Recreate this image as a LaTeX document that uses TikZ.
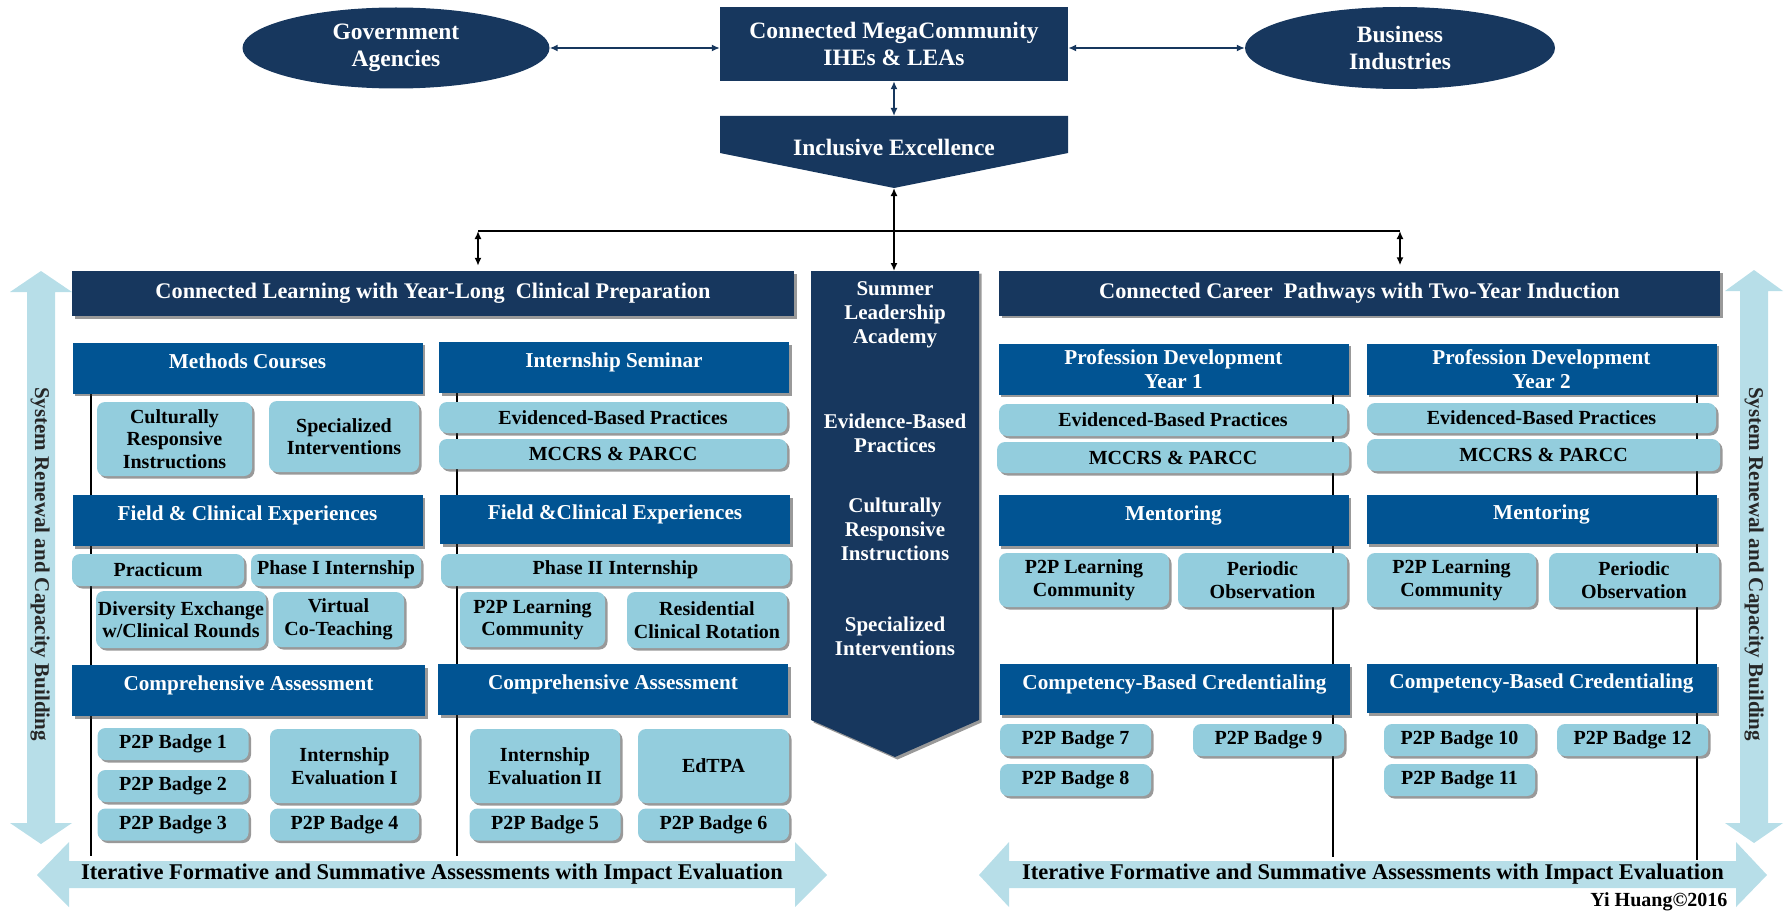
\documentclass[tikz,border=0pt]{standalone}
\usepackage{fontspec}
\setmainfont{Liberation Serif}
\usepackage{tikz}
\usetikzlibrary{shapes,arrows.meta,positioning,shadows}

\definecolor{navy}{RGB}{23,55,94}
\definecolor{hdrblue}{RGB}{1,84,147}
\definecolor{boxblue}{RGB}{147,205,221}
\definecolor{arrowblue}{RGB}{183,222,232}

\tikzset{
  sh/.style={drop shadow={shadow xshift=2.5pt,shadow yshift=-2.5pt,opacity=.5,fill=black!80}},
  sz/.style 2 args={minimum width=#1pt,minimum height=#2pt},
  topbox/.style={fill=navy,text=white,align=center,inner sep=0pt,font=\fontsize{23.5}{27}\selectfont\bfseries},
  banner/.style={fill=navy,text=white,sh,inner sep=0pt,minimum height=45pt,font=\fontsize{22.3}{26}\selectfont\bfseries},
  hdr/.style={fill=hdrblue,text=white,sh,sz={350}{51},align=center,inner sep=0pt,font=\fontsize{21.2}{24}\selectfont\bfseries},
  hdrtop/.style={hdr,text height=11pt,text depth=11pt},
  item/.style={fill=boxblue,rounded corners=8pt,sh,align=center,inner sep=0pt,font=\fontsize{20}{22.5}\selectfont\bfseries},
  badge/.style={item,sz={151}{32}},
  coltext/.style={text=white,align=center,font=\fontsize{21}{24}\selectfont\bfseries},
  bartext/.style={font=\fontsize{22.5}{26}\selectfont\bfseries},
  vtext/.style={rotate=-90,text=black!85,font=\fontsize{21}{24}\selectfont\bfseries},
  link/.style={<->,draw=navy,line width=1.5pt},
  branch/.style={<->,line width=1.6pt},
  guide/.style={line width=1.2pt}
}

\begin{document}
\begin{tikzpicture}[x=1pt,y=-1pt,>={Latex[length=8pt,width=7pt]}]
  \useasboundingbox (0,0) rectangle (1784,915);

  % community on top
  \node[topbox,ellipse,sz={307}{81}] (gov) at (396,48) {Government\\Agencies};
  \node[topbox,sz={348}{74}] (mega) at (894,44) {Connected MegaCommunity\\IHEs \& LEAs};
  \node[topbox,ellipse,sz={310}{82}] (bus) at (1400,48) {Business\\Industries};
  \fill[navy] (720,116) -- (1068,116) -- (1068,153) -- (894,188) -- (720,153) -- cycle;
  \node[topbox,fill=none] (incl) at (894,147) {Inclusive Excellence};
  \coordinate (inctop) at (894,116);
  \coordinate (inctip) at (894,188);
  \draw[link] (gov.east) -- (gov.east -| mega.west);
  \draw[link] (bus.west -| mega.east) -- (bus.west);
  \draw[link] (mega.south) -- (inctop);

  % light arrows round the frame
  \fill[arrowblue] (41,271) -- (72,292) -- (55,292) -- (55,823) -- (72,823) -- (41,844) -- (10,823) -- (27,823) -- (27,292) -- (10,292) -- cycle;
  \fill[arrowblue] (1754,270) -- (1783,291) -- (1768,291) -- (1768,823) -- (1783,823) -- (1754,843) -- (1725,823) -- (1740,823) -- (1740,291) -- (1725,291) -- cycle;
  \fill[arrowblue] (37,875) -- (69,842) -- (69,861) -- (795,861) -- (795,842) -- (827,875) -- (795,907) -- (795,888) -- (69,888) -- (69,907) -- cycle;
  \fill[arrowblue] (979,875) -- (1009,842) -- (1009,861) -- (1736,861) -- (1736,842) -- (1767,875) -- (1736,907) -- (1736,888) -- (1009,888) -- (1009,907) -- cycle;
  \node[vtext] (sysl) at (40,564) {System Renewal and Capacity Building};
  \node[vtext] (sysr) at (1754,564) {System Renewal and Capacity Building};
  \node[bartext] (iterl) at (432,874) {Iterative Formative and Summative Assessments with Impact Evaluation};
  \node[bartext] (iterr) at (1373,874) {Iterative Formative and Summative Assessments with Impact Evaluation};
  \node[anchor=east,font=\fontsize{20}{24}\selectfont\bfseries] (sign) at (1731,902) {Yi Huang©2016};

  % guide lines behind the boxes
  \draw[guide] (91,393) -- (91,856);
  \draw[guide] (457,392) -- (457,856);
  \draw[guide] (1333,395) -- (1333,857);
  \draw[guide] (1697,395) -- (1697,860);

  % banners and the middle column
  \node[banner,minimum width=722pt] (lban) at (433,293.5) {Connected Learning with Year-Long~ Clinical Preparation};
  \node[banner,minimum width=721pt] (rban) at (1359.5,293) {Connected Career~ Pathways with Two-Year Induction};
  \fill[navy,sh] (811,271) -- (979,271) -- (979,720) -- (895,757) -- (811,720) -- cycle;
  \coordinate (coltop) at (894,271);
  \node[coltext] (sla) at (895,314.5) {Summer\\Leadership\\Academy};
  \node[coltext] (ebpc) at (895,433.5) {Evidence-Based\\Practices};
  \node[coltext] (cric) at (895,529) {Culturally\\Responsive\\Instructions};
  \node[coltext] (spic) at (895,636) {Specialized\\Interventions};

  \coordinate (lfork) at (478,231);
  \coordinate (rfork) at (1400,231);
  \draw[line width=1.6pt] (lfork) -- (rfork);
  \draw[branch,shorten >=5pt] (lfork) -- (lfork |- lban.north);
  \draw[branch,shorten >=5pt] (rfork) -- (rfork |- rban.north);
  \draw[branch] (inctip) -- (coltop);

  % methods courses column
  \node[hdrtop] (mc) at (247.5,368) {Methods Courses};
  \node[item,sz={155}{74}] (cri) at (174.5,439) {Culturally\\Responsive\\Instructions};
  \node[item,sz={150}{71}] (spi) at (344,436.5) {Specialized\\Interventions};
  \node[hdrtop] (fce1) at (247.5,520.5) {Field \& Clinical Experiences};
  \node[item,sz={172}{32}] (prac) at (158,570) {Practicum};
  \node[item,sz={170}{32}] (ph1) at (336,570) {Phase I Internship};
  \node[item,sz={170}{57}] (dex) at (181,619.5) {Diversity Exchange\\w/Clinical Rounds};
  \node[item,sz={131}{55}] (vct) at (338.5,619.5) {Virtual\\Co-Teaching};
  \node[hdrtop,minimum width=353pt] (ca1) at (248.5,690.5) {Comprehensive Assessment};
  \node[badge] (pb1) at (173,744) {P2P Badge 1};
  \node[badge] (pb2) at (173,786) {P2P Badge 2};
  \node[badge] (pb3) at (173,824.5) {P2P Badge 3};
  \node[item,sz={149}{74}] (ie1) at (344.5,766) {Internship\\Evaluation I};
  \node[badge,minimum width=149pt] (pb4) at (344.5,824.5) {P2P Badge 4};

  % internship seminar column
  \node[hdrtop] (is) at (614,367.5) {Internship Seminar};
  \node[item,sz={348}{31}] (ebp1) at (613,417.5) {Evidenced-Based Practices};
  \node[item,sz={348}{30}] (mp1) at (613,454) {MCCRS \& PARCC};
  \node[hdrtop,minimum height=49pt] (fce2) at (615,519.5) {Field \&Clinical Experiences};
  \node[item,sz={349}{32}] (ph2) at (615.5,570) {Phase II Internship};
  \node[item,sz={145}{55}] (p2pa) at (532.5,619.5) {P2P Learning\\Community};
  \node[item,sz={160}{56}] (rcr) at (707,620) {Residential\\Clinical Rotation};
  \node[hdrtop] (ca2) at (613,689.5) {Comprehensive Assessment};
  \node[item,sz={150}{74}] (ie2) at (545,766) {Internship\\Evaluation II};
  \node[item,sz={151}{74}] (edtpa) at (713.5,766) {EdTPA};
  \node[badge] (pb5) at (545,824.5) {P2P Badge 5};
  \node[badge] (pb6) at (713.5,824.5) {P2P Badge 6};

  % induction year 1
  \node[hdr] (pd1) at (1173.5,369) {Profession Development\\Year 1};
  \node[item,sz={348}{32}] (ebp2) at (1173,420) {Evidenced-Based Practices};
  \node[item,sz={352}{31}] (mp2) at (1173,457.5) {MCCRS \& PARCC};
  \node[hdrtop] (men1) at (1173.5,520.5) {Mentoring};
  \node[item,sz={170}{54}] (p2pb) at (1084,580) {P2P Learning\\Community};
  \node[item,sz={169}{54}] (po1) at (1262.5,580) {Periodic\\Observation};
  \node[hdrtop] (cbc1) at (1174.5,689.5) {Competency-Based Credentialing};
  \node[badge] (pb7) at (1075.5,740) {P2P Badge 7};
  \node[badge] (pb9) at (1268.5,740) {P2P Badge 9};
  \node[badge] (pb8) at (1075.5,780) {P2P Badge 8};

  % induction year 2
  \node[hdr] (pd2) at (1541.5,369) {Profession Development\\Year 2};
  \node[item,sz={349}{30}] (ebp3) at (1541.5,418) {Evidenced-Based Practices};
  \node[item,sz={353}{32}] (mp3) at (1543.5,455) {MCCRS \& PARCC};
  \node[hdrtop,minimum height=49pt] (men2) at (1541.5,519.5) {Mentoring};
  \node[item,sz={169}{54}] (p2pc) at (1451.5,580) {P2P Learning\\Community};
  \node[item,sz={170}{54}] (po2) at (1634,580) {Periodic\\Observation};
  \node[hdrtop,minimum height=49pt] (cbc2) at (1541.5,688.5) {Competency-Based Credentialing};
  \node[badge] (pb10) at (1459.5,740) {P2P Badge 10};
  \node[badge] (pb12) at (1632.5,740) {P2P Badge 12};
  \node[badge] (pb11) at (1459.5,780) {P2P Badge 11};
\end{tikzpicture}
\end{document}
